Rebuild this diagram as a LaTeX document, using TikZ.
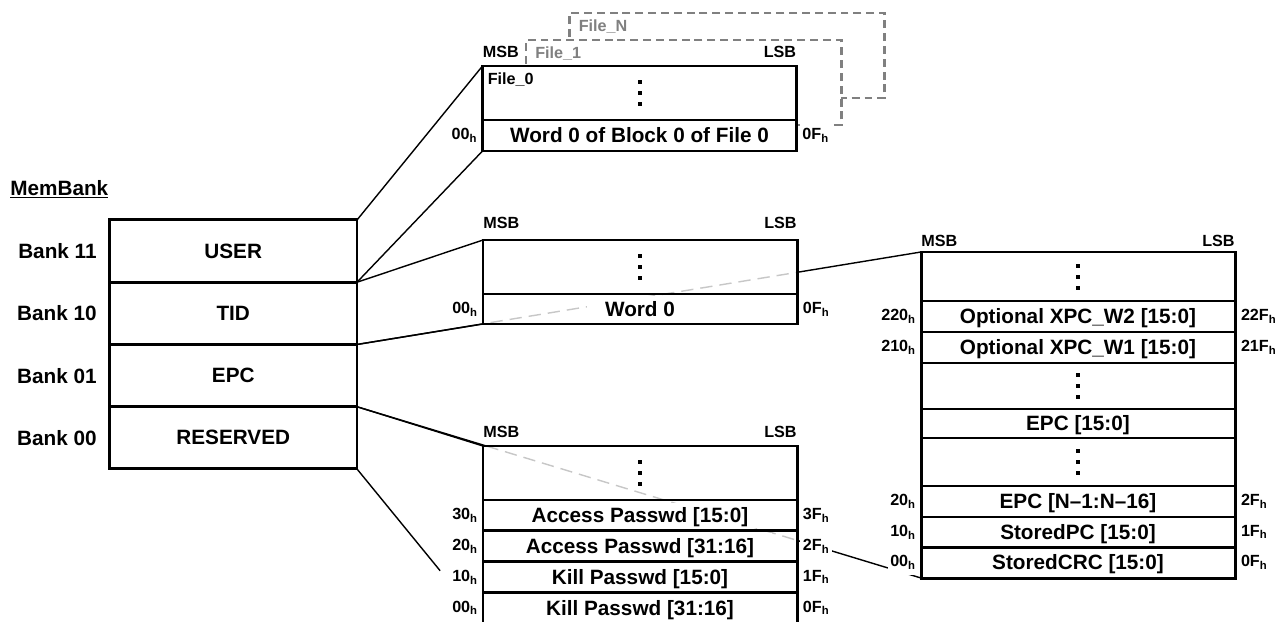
\documentclass[tikz,border=0pt]{standalone}
\usepackage{fontspec}
\setmainfont{Liberation Sans}
\usetikzlibrary{positioning,calc}
\pgfdeclarelayer{back}
\pgfdeclarelayer{fills}
\pgfdeclarelayer{dash}
\pgfsetlayers{back,fills,dash,main}
\newdimen\pxu \pxu=0.02cm
\newcommand{\bigf}{\fontsize{11.8}{14}\selectfont\bfseries}
\newcommand{\smallf}{\fontsize{9.2}{11}\selectfont\bfseries}
% white patch behind row text, so hidden lines stop at the text
\newcommand{\wbg}[1]{{\setlength{\fboxsep}{0pt}\colorbox{white}{\hspace{10pt}\rule[-3.1pt]{0pt}{14.6pt}#1\hspace{10pt}}}}
\newcommand{\rowdots}[1]{\foreach \k in {-11,0,11} \fill ($(#1.center)+(0,\k)$) +(-2,-2) rectangle +(2,2);}
\tikzset{
  bankrow/.style={draw, line width=1.7pt, outer sep=0pt, inner sep=0pt,
    minimum width=247.5*\pxu, minimum height=62.25*\pxu, font=\bigf},
  banklbl/.style={font=\bigf, inner sep=2pt},
  wordrow/.style={draw, line width=1.7pt, outer sep=0pt, inner sep=0pt,
    text height=11.5pt, text depth=3.1pt,
    minimum width=314*\pxu, minimum height=#1*\pxu, font=\bigf},
  wordrow/.default=31,
  filled/.style={fill=white},
  filebox/.style={draw=black!50, line width=1.7pt, dash pattern=on 4.5pt off 2.8pt,
    fill=white, outer sep=0pt, minimum width=315*\pxu, minimum height=85*\pxu},
  bitlbl/.style={font=\smallf, inner sep=0pt},
  addr/.style={font=\smallf, fill=white, inner xsep=1.5pt, inner ysep=3pt},
  link/.style={line width=0.8pt},
  hidden/.style={line width=0.8pt, black!22, dash pattern=on 7pt off 4pt},
}
\begin{document}
\begin{tikzpicture}[x=0.02cm, y=-0.02cm]
\useasboundingbox (0,0) rectangle (1288,622);

% memory banks
\node[anchor=base west, font=\bigf, inner sep=0pt] (title) at (10,195) {\underline{MemBank}};
\node[bankrow] (user) at (233.25,251.1) {USER};
\node[bankrow, below=0pt of user] (tid) {TID};
\node[bankrow, below=0pt of tid] (epc) {EPC};
\node[bankrow, below=0pt of epc] (rsv) {RESERVED};
\node[banklbl, left=9*\pxu of user] (b11) {Bank 11};
\node[banklbl, left=9*\pxu of tid] (b10) {Bank 10};
\node[banklbl, left=9*\pxu of epc] (b01) {Bank 01};
\node[banklbl, left=9*\pxu of rsv] (b00) {Bank 00};

% user memory, one box per file
\node[filebox] (fileN) at (727,55.5) {};
\node[filebox] (file1) at (683.5,82.5) {};
\node[wordrow=54, filled] (file0top) at (639.5,93) {};
\node[wordrow=31, filled, below=0pt of file0top] (file0w) {Word 0 of Block 0 of File 0};
\node[bitlbl, text=black!50, anchor=north west] (fNlbl) at ($(fileN.north west)+(9,6)$) {File\_N};
\node[bitlbl, text=black!50, anchor=north west] (f1lbl) at ($(file1.north west)+(9,6)$) {File\_1};
\node[bitlbl, anchor=north west] (f0lbl) at ($(file0top.north west)+(5,6)$) {File\_0};

% tid memory
\node[wordrow=54] (tidtop) at (640,267) {};
\node[wordrow=30, below=0pt of tidtop] (tidw0) {\wbg{Word 0}};

% reserved memory
\node[wordrow=54] (rsvtop) at (640,473) {};
\node[wordrow=30.8, below=0pt of rsvtop] (rsva1) {\wbg{Access Passwd [15:0]}};
\node[wordrow=30.8, below=0pt of rsva1] (rsva2) {\wbg{Access Passwd [31:16]}};
\node[wordrow=30.8, below=0pt of rsva2] (rsvk1) {\wbg{Kill Passwd [15:0]}};
\node[wordrow=30.8, below=0pt of rsvk1] (rsvk2) {\wbg{Kill Passwd [31:16]}};

% epc memory
\node[wordrow=49, filled] (epctop) at (1078,276.5) {};
\node[wordrow=31, filled, below=0pt of epctop] (xpc2) {Optional XPC\_W2 [15:0]};
\node[wordrow=31, filled, below=0pt of xpc2] (xpc1) {Optional XPC\_W1 [15:0]};
\node[wordrow=46, filled, below=0pt of xpc1] (epcgap1) {};
\node[wordrow=29, filled, below=0pt of epcgap1] (epclsw) {EPC [15:0]};
\node[wordrow=48, filled, below=0pt of epclsw] (epcgap2) {};
\node[wordrow=31, filled, below=0pt of epcgap2] (epcmsw) {EPC [N–1:N–16]};
\node[wordrow=30, filled, below=0pt of epcmsw] (storedpc) {StoredPC [15:0]};
\node[wordrow=31, filled, below=0pt of storedpc] (storedcrc) {StoredCRC [15:0]};

\foreach \r in {file0top, tidtop, rsvtop, epctop, epcgap1, epcgap2} {\rowdots{\r}}

% bit order and word addresses
\foreach \b/\d in {file0top/9, tidtop/12, rsvtop/9, epctop/6} {
  \node[bitlbl, anchor=base west] (\b-msb) at ($(\b.north west)+(0,-\d)$) {MSB};
  \node[bitlbl, anchor=base east] (\b-lsb) at ($(\b.north east)+(0,-\d)$) {LSB};
}
\foreach \r/\lo/\hi in {file0w/00/0F, tidw0/00/0F, rsva1/30/3F, rsva2/20/2F,
    rsvk1/10/1F, rsvk2/00/0F, xpc2/220/22F, xpc1/210/21F,
    epcmsw/20/2F, storedpc/10/1F, storedcrc/00/0F} {
  \node[addr, left=2*\pxu of \r] (\r-lo) {\lo\textsubscript{h}};
  \node[addr, right=3*\pxu of \r] (\r-hi) {\hi\textsubscript{h}};
}

% bank to memory map lines
\begin{pgfonlayer}{back}
  \draw[link] (user.north east) -- (file0top.north west);
  \draw[link] (user.south east) -- (file0w.south west);
  \draw[link] (user.south east) -- (tidtop.north west);
  \draw[link] (tid.south east) -- (tidw0.south west);
  \draw[link] (epc.north east) -- (epctop.north west);
  \draw[link] (epc.south east) -- (storedcrc.south west);
  \draw[link] (rsv.north east) -- (rsvtop.north west);
  \draw[link] (rsv.south east) -- ($(rsv.south east)!0.66!(rsvk2.south west)$);
\end{pgfonlayer}
\begin{pgfonlayer}{fills}
  \fill[white] (tidtop.north west) rectangle (tidw0.south east);
  \fill[white] (rsvtop.north west) rectangle (rsvk2.south east);
\end{pgfonlayer}
\begin{pgfonlayer}{dash}
  \begin{scope}
    \clip (tidtop.north west) rectangle (tidw0.south east);
    \draw[hidden] (epc.north east) -- (epctop.north west);
  \end{scope}
  \begin{scope}
    \clip (rsvtop.north west) rectangle (rsvk2.south east);
    \draw[hidden] (epc.south east) -- (storedcrc.south west);
  \end{scope}
\end{pgfonlayer}
\end{tikzpicture}
\end{document}
